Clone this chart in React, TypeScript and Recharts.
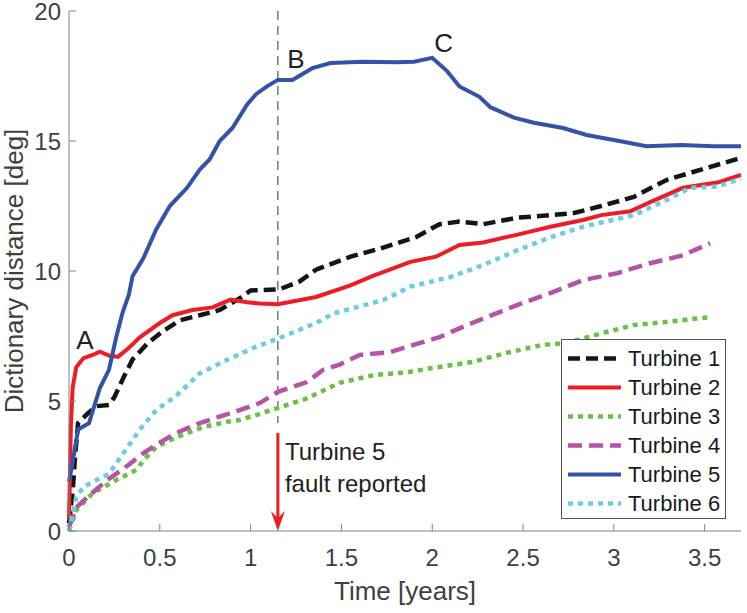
import React from "react";
import {
  LineChart,
  Line,
  XAxis,
  YAxis,
  Legend,
  ReferenceLine,
  ReferenceDot,
} from "recharts";

// values (time in years, distance in deg)
const T1_TIME = [0, 0.02, 0.035, 0.05, 0.1, 0.15, 0.22, 0.25, 0.3, 0.35, 0.43, 0.52, 0.61, 0.72, 0.83, 0.94, 1.0, 1.16, 1.27, 1.36, 1.55, 1.73, 1.91, 2.04, 2.15, 2.28, 2.47, 2.65, 2.78, 2.93, 3.11, 3.29, 3.48, 3.7];
const T1_DIST = [0.3, 1.5, 3.0, 4.15, 4.5, 4.8, 4.85, 5.15, 5.9, 6.6, 7.2, 7.7, 8.1, 8.3, 8.5, 8.95, 9.25, 9.3, 9.6, 10.05, 10.55, 10.9, 11.3, 11.8, 11.9, 11.8, 12.05, 12.15, 12.23, 12.5, 12.85, 13.5, 13.9, 14.35];

const T2_TIME = [0, 0.005, 0.01, 0.02, 0.04, 0.08, 0.13, 0.17, 0.22, 0.27, 0.33, 0.39, 0.5, 0.57, 0.68, 0.79, 0.89, 0.98, 1.05, 1.15, 1.36, 1.55, 1.67, 1.88, 2.02, 2.15, 2.28, 2.47, 2.65, 2.83, 2.93, 3.09, 3.2, 3.38, 3.57, 3.7];
const T2_DIST = [0.5, 2.0, 4.0, 5.5, 6.3, 6.65, 6.77, 6.9, 6.75, 6.7, 7.05, 7.45, 8.0, 8.3, 8.5, 8.6, 8.9, 8.8, 8.75, 8.72, 9.0, 9.45, 9.8, 10.35, 10.55, 11.0, 11.1, 11.4, 11.7, 11.96, 12.15, 12.3, 12.65, 13.2, 13.4, 13.7];

const T3_TIME = [0, 0.04, 0.13, 0.26, 0.37, 0.42, 0.48, 0.59, 0.74, 0.87, 0.94, 1.03, 1.15, 1.31, 1.49, 1.68, 1.86, 2.0, 2.22, 2.41, 2.6, 2.74, 2.93, 3.11, 3.29, 3.48, 3.53];
const T3_DIST = [0, 0.8, 1.45, 1.96, 2.35, 2.8, 3.23, 3.6, 4.0, 4.2, 4.27, 4.46, 4.73, 5.1, 5.7, 6.0, 6.1, 6.27, 6.5, 6.85, 7.15, 7.23, 7.6, 7.92, 8.04, 8.19, 8.22];

const T4_TIME = [0, 0.04, 0.1, 0.21, 0.32, 0.41, 0.5, 0.59, 0.72, 0.83, 0.94, 1.05, 1.15, 1.31, 1.4, 1.49, 1.6, 1.77, 1.86, 2.04, 2.22, 2.47, 2.65, 2.83, 3.02, 3.2, 3.38, 3.53];
const T4_DIST = [0.15, 0.9, 1.3, 1.96, 2.5, 3.0, 3.4, 3.77, 4.15, 4.4, 4.65, 4.92, 5.35, 5.73, 6.2, 6.4, 6.77, 6.88, 7.08, 7.46, 8.0, 8.7, 9.15, 9.65, 9.92, 10.3, 10.6, 11.07];

const T5_TIME = [0, 0.02, 0.05, 0.11, 0.17, 0.22, 0.26, 0.295, 0.33, 0.35, 0.41, 0.48, 0.555, 0.65, 0.72, 0.775, 0.83, 0.9, 0.98, 1.03, 1.09, 1.15, 1.23, 1.34, 1.44, 1.62, 1.8, 1.9, 2.0, 2.08, 2.15, 2.26, 2.32, 2.45, 2.56, 2.72, 2.85, 3.0, 3.18, 3.37, 3.55, 3.7];
const T5_DIST = [1.9, 2.65, 3.9, 4.15, 5.5, 6.2, 7.45, 8.4, 9.1, 9.8, 10.5, 11.6, 12.5, 13.2, 13.9, 14.3, 15.0, 15.5, 16.4, 16.8, 17.1, 17.35, 17.35, 17.8, 18.0, 18.05, 18.03, 18.05, 18.2, 17.7, 17.1, 16.7, 16.3, 15.9, 15.7, 15.5, 15.23, 15.04, 14.8, 14.85, 14.8, 14.8];

const T6_TIME = [0, 0.04, 0.08, 0.22, 0.32, 0.39, 0.48, 0.59, 0.72, 0.87, 1.01, 1.15, 1.36, 1.46, 1.73, 1.88, 2.1, 2.28, 2.47, 2.65, 2.83, 3.11, 3.29, 3.42, 3.57, 3.7];
const T6_DIST = [0, 1.3, 1.7, 2.2, 3.2, 3.9, 4.65, 5.2, 6.06, 6.58, 7.03, 7.4, 8.0, 8.38, 8.88, 9.4, 9.77, 10.23, 10.8, 11.3, 11.7, 12.15, 12.73, 13.2, 13.25, 13.55];

const X_TICKS = [0, 0.5, 1, 1.5, 2, 2.5, 3, 3.5];
const Y_TICKS = [0, 5, 10, 15, 20];

const FAULT_TIME = 1.15;

const NOTES = [
  { text: "A", t: 0.087, v: 7.35 },
  { text: "B", t: 1.25, v: 18.15 },
  { text: "C", t: 2.063, v: 18.77 },
];

const zip = (ts: number[], vs: number[]) => ts.map((t, i) => ({ t, v: vs[i] }));

const SERIES = [
  { name: "Turbine 1", data: zip(T1_TIME, T1_DIST), color: "#151515", dash: "12 6", width: 4.5 },
  { name: "Turbine 2", data: zip(T2_TIME, T2_DIST), color: "#ee1c25", dash: undefined, width: 4 },
  { name: "Turbine 3", data: zip(T3_TIME, T3_DIST), color: "#6abf45", dash: "5 5", width: 4.5 },
  { name: "Turbine 4", data: zip(T4_TIME, T4_DIST), color: "#b553a6", dash: "14 7", width: 4.5 },
  { name: "Turbine 5", data: zip(T5_TIME, T5_DIST), color: "#3452a8", dash: undefined, width: 4 },
  { name: "Turbine 6", data: zip(T6_TIME, T6_DIST), color: "#6ccde0", dash: "5 5", width: 4.5 },
];

const AXIS = "#808080";
const TEXT = "#404040";

const LegendBox = () => (
  <div style={{ border: "1px solid #555", background: "#fff", padding: "4px 0 2px 0", boxSizing: "border-box", height: 180 }}>
    {SERIES.map((s) => (
      <div key={s.name} style={{ display: "flex", alignItems: "center", height: 29 }}>
        <svg width={62} height={29}>
          <line x1={6} x2={59} y1={14.5} y2={14.5} stroke={s.color} strokeWidth={s.width} strokeDasharray={s.dash} />
        </svg>
        <span style={{ marginLeft: 4, fontSize: 22, color: "#1a1a1a" }}>{s.name}</span>
      </div>
    ))}
  </div>
);

const FaultArrow = (props: any) => {
  const { x1, y1, y2 } = props;
  const top = Math.min(y1, y2);
  const tip = Math.max(y1, y2);
  const x = x1;
  return (
    <g>
      <line x1={x} x2={x} y1={top} y2={tip - 10} stroke="#ee1c25" strokeWidth={3} />
      <path d={`M${x},${tip} L${x - 7},${tip - 20} L${x},${tip - 13} L${x + 7},${tip - 20} Z`} fill="#ee1c25" />
    </g>
  );
};

const FaultText = (props: any) => {
  const { viewBox } = props;
  const x = viewBox.x;
  const y = viewBox.y;
  return (
    <text x={x} y={y} fill="#222" fontSize={24}>
      <tspan x={x} dy={0}>Turbine 5</tspan>
      <tspan x={x} dy={32}>fault reported</tspan>
    </text>
  );
};

const YLabel = (props: any) => {
  const { viewBox } = props;
  const cx = viewBox.x + 23;
  const cy = viewBox.y + viewBox.height / 2;
  return (
    <text x={cx} y={cy} transform={`rotate(-90 ${cx} ${cy})`} textAnchor="middle" fill={TEXT} fontSize={26}>
      Dictionary distance [deg]
    </text>
  );
};

export default function App() {
  return (
    <div style={{ position: "absolute", left: 0, top: 0, fontFamily: "'Liberation Sans', Arial, sans-serif" }}>
      <LineChart width={747} height={613} margin={{ top: 11, right: 6, bottom: 0, left: 0 }}>
        <XAxis
          dataKey="t"
          type="number"
          domain={[0, 3.7]}
          ticks={X_TICKS}
          interval={0}
          height={82}
          tickSize={-7}
          tickMargin={25}
          axisLine={{ stroke: AXIS }}
          tickLine={{ stroke: AXIS }}
          tick={{ fill: TEXT, fontSize: 24 }}
          label={{ value: "Time [years]", position: "insideBottom", offset: 13, fill: TEXT, fontSize: 26 }}
        />
        <XAxis
          xAxisId="top"
          orientation="top"
          type="number"
          domain={[0, 3.7]}
          ticks={X_TICKS}
          height={0}
          tickSize={-7}
          tick={false}
          axisLine={{ stroke: AXIS }}
          tickLine={{ stroke: AXIS }}
        />
        <YAxis
          type="number"
          domain={[0, 20]}
          ticks={Y_TICKS}
          interval={0}
          width={69}
          tickSize={-7}
          tickMargin={15}
          axisLine={{ stroke: AXIS }}
          tickLine={{ stroke: AXIS }}
          tick={{ fill: TEXT, fontSize: 24 }}
          label={{ content: YLabel }}
        />
        <YAxis
          yAxisId="right"
          orientation="right"
          type="number"
          domain={[0, 20]}
          ticks={Y_TICKS}
          width={0}
          tickSize={-7}
          tick={false}
          axisLine={{ stroke: AXIS }}
          tickLine={{ stroke: AXIS }}
        />
        <ReferenceLine
          segment={[{ x: FAULT_TIME, y: 20 }, { x: FAULT_TIME, y: 4.15 }]}
          stroke="#555"
          strokeWidth={1.2}
          strokeDasharray="9 6"
        />
        <ReferenceLine segment={[{ x: FAULT_TIME, y: 3.77 }, { x: FAULT_TIME, y: 0 }]} shape={FaultArrow} />
        {SERIES.map((s) => (
          <Line
            key={s.name}
            data={s.data}
            dataKey="v"
            name={s.name}
            type="linear"
            stroke={s.color}
            strokeWidth={s.width}
            strokeDasharray={s.dash}
            dot={false}
            activeDot={false}
            isAnimationActive={false}
          />
        ))}
        {NOTES.map((n) => (
          <ReferenceDot
            key={n.text}
            x={n.t}
            y={n.v}
            r={0}
            fill="none"
            stroke="none"
            label={{ value: n.text, position: "center", fill: "#222", fontSize: 26 }}
          />
        ))}
        <ReferenceDot x={1.189} y={2.73} r={0} fill="none" stroke="none" label={{ content: FaultText }} />
        <Legend
          layout="vertical"
          align="center"
          verticalAlign="middle"
          content={LegendBox}
          wrapperStyle={{ left: 561, top: 339, width: 165, height: 180 }}
        />
      </LineChart>
    </div>
  );
}
